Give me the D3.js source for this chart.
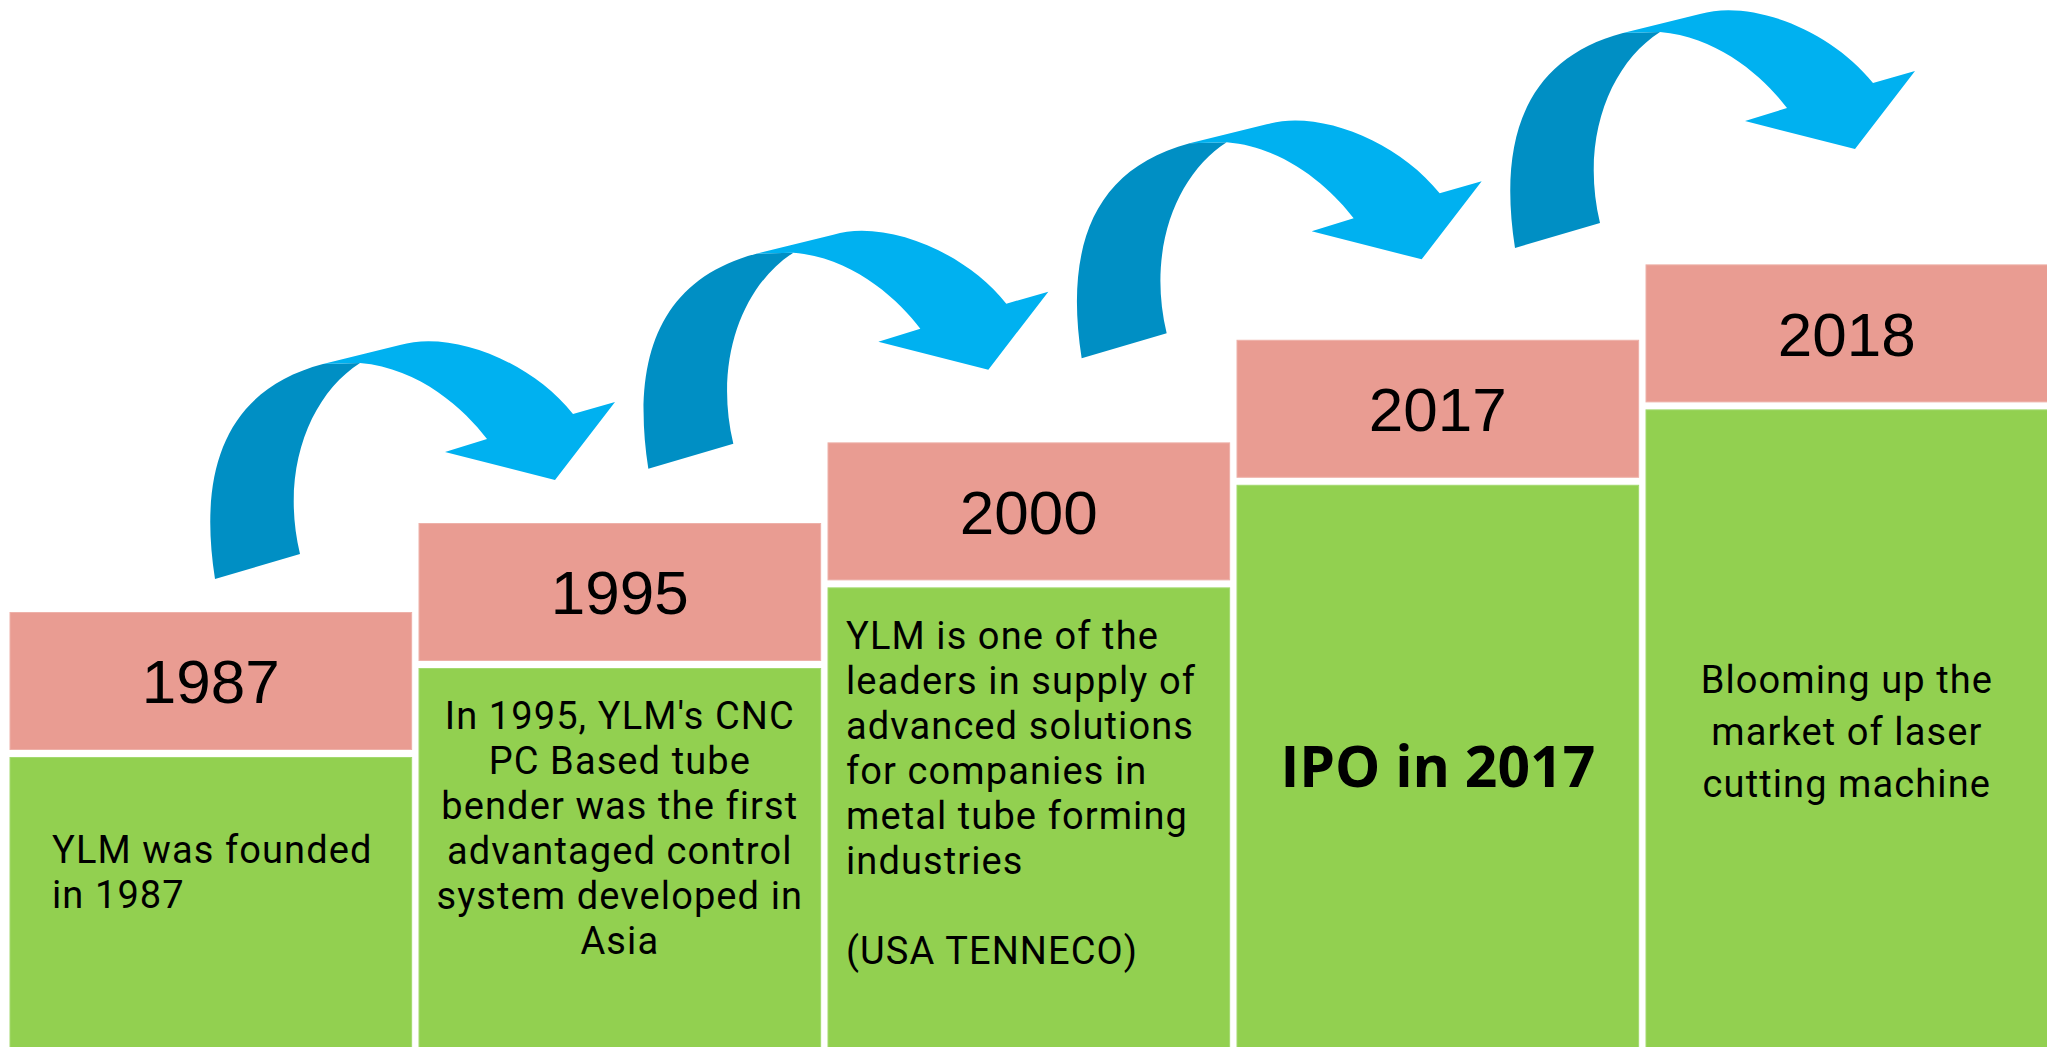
<!DOCTYPE html>
<html>
<head>
<meta charset="utf-8">
<script src="https://cdn.jsdelivr.net/npm/d3@7"></script>
<style>
    body { margin: 0; background: #fff; }
    svg { display: block; }
</style>
</head>
<body>
<div id="timeline"></div>
<script>
// milestones
const years = ["1987", "1995", "2000", "2017", "2018"];
// height of each step (0 = bottom, 100 = top)
const stepLevels = [41.5, 50.0, 57.7, 67.5, 74.7];
const descriptions = [
    ["YLM was founded", "in 1987"],
    ["In 1995, YLM's CNC", "PC Based tube", "bender was the first", "advantaged control", "system developed in", "Asia"],
    ["YLM is one of the", "leaders in supply of", "advanced solutions", "for companies in", "metal tube forming", "industries", "", "(USA TENNECO)"],
    ["IPO in 2017"],
    ["Blooming up the", "market of laser", "cutting machine"]
];

// text styles per column
const bodyFont = "Roboto, 'Open Sans', sans-serif";
const textStyles = [
    {anchor: "start",  pad: 42, first: 106, lh: 45, size: 38, weight: 400, font: bodyFont, ls: 1.1},
    {anchor: "middle", pad: 0,  first: 60,  lh: 45, size: 38, weight: 400, font: bodyFont, ls: 1.1},
    {anchor: "start",  pad: 18, first: 61,  lh: 45, size: 38, weight: 400, font: bodyFont, ls: 1.1},
    {anchor: "middle", pad: 0,  first: 302, lh: 45, size: 57, weight: 700, font: "'Open Sans', sans-serif", ls: 0},
    {anchor: "middle", pad: 0,  first: 283, lh: 52, size: 38, weight: 400, font: bodyFont, ls: 1.1}
];

const width = 2047, height = 1047;
const headH = 137, gap = 8;
const pink = "#e99c92", green = "#92d050";
const darkBlue = "#008fc4", lightBlue = "#00b1f0";

const svg = d3.select("#timeline").append("svg")
    .attr("width", width)
    .attr("height", height);

const x = d3.scaleBand()
    .domain(years)
    .range([10, 10 + 409 * 4.982])
    .paddingInner(0.018);

const y = d3.scaleLinear()
    .domain([0, 100])
    .range([height, 0]);

const cols = svg.append("g").selectAll(".step")
    .data(years)
    .enter()
    .append("g")
        .attr("class", "step")
        .attr("transform", (d, i) => `translate(${x(d)},${y(stepLevels[i])})`);

// year header
cols.append("rect")
    .attr("width", x.bandwidth())
    .attr("height", headH)
    .style("fill", pink)
    .style("stroke", "#eeb1a9")
    .style("stroke-width", 1);

cols.append("text")
    .attr("x", x.bandwidth() / 2)
    .attr("y", headH / 2)
    .attr("dy", "0.36em")
    .attr("text-anchor", "middle")
    .style("font-family", "'Liberation Sans', Arial, sans-serif")
    .style("font-size", "62px")
    .style("fill", "#000")
    .text(d => d);

// description box
cols.append("rect")
    .attr("y", headH + gap)
    .attr("width", x.bandwidth())
    .attr("height", (d, i) => height - y(stepLevels[i]) - headH - gap + 2)
    .style("fill", green)
    .style("stroke", "#a3d96f")
    .style("stroke-width", 1);

cols.each(function(d, i) {
    let st = textStyles[i];
    let tx = st.anchor === "middle" ? x.bandwidth() / 2 : st.pad;
    let t = d3.select(this).append("text")
        .attr("text-anchor", st.anchor)
        .style("font-family", st.font)
        .style("font-size", st.size + "px")
        .style("font-weight", st.weight)
        .style("letter-spacing", st.ls + "px")
        .style("fill", "#000");
    descriptions[i].forEach((line, k) => {
        if (line === "") return;
        t.append("tspan")
            .attr("x", tx)
            .attr("y", headH + gap + st.first + k * st.lh)
            .text(line);
    });
});

// curved arrows between the steps
const arrowPairs = d3.pairs(years);
const ax = d3.scaleLinear().domain([0, arrowPairs.length - 1]).range([215, 1515]);
const ay = d3.scaleLinear().domain([0, arrowPairs.length - 1]).range([579, 248]);

// shape relative to the tail corner
const tailPath = "M0,0 C-17,-109 10,-189 108,-215 L145,-216 C95,-184 65,-109 85,-25 Z";
const headPath = "M108,-215 L185,-234 C235,-249 315,-219 358,-165 L400,-177 L340,-99 " +
    "L230,-127 L272,-140 C250,-169 205,-211 145,-216 Z";

const arrows = svg.append("g").selectAll(".arrow")
    .data(arrowPairs)
    .enter()
    .append("g")
        .attr("class", "arrow")
        .attr("transform", (d, i) => `translate(${ax(i)},${ay(i)})`);

arrows.append("path")
    .attr("d", tailPath)
    .style("fill", darkBlue);

arrows.append("path")
    .attr("d", headPath)
    .style("fill", lightBlue);
</script>
</body>
</html>
